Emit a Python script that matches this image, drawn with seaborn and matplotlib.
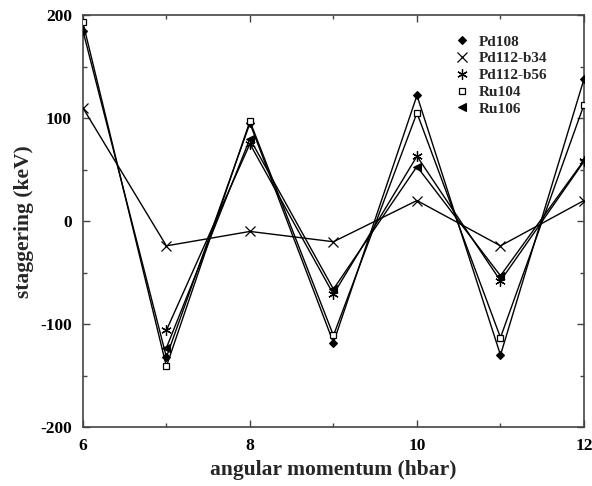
import matplotlib
matplotlib.use("Agg")
import matplotlib.pyplot as plt
from matplotlib.ticker import MultipleLocator
from matplotlib.lines import Line2D
import seaborn as sns
import pandas as pd

# Staggering of the yrast band versus angular momentum
spins_full = [6, 7, 8, 9, 10, 11, 12]
spins_tail = [7, 8, 9, 10, 11, 12]

pd108 = [185, -132, 95, -118, 122, -130, 138]
pd112_b34 = [110, -24, -10, -20, 20, -24, 20]
pd112_b56 = [-106, 75, -71, 63, -58, 58]
ru104 = [193, -141, 97, -111, 105, -113, 113]
ru106 = [-123, 80, -66, 53, -53, 59]

series_names = ["Pd108", "Pd112-b34", "Pd112-b56", "Ru104", "Ru106"]
series_x = [spins_full, spins_full, spins_tail, spins_full, spins_tail]
series_y = [pd108, pd112_b34, pd112_b56, ru104, ru106]

frames = []
for name, xs, ys in zip(series_names, series_x, series_y):
    frames.append(pd.DataFrame({"spin": xs, "stagger": ys, "nucleus": name}))
data = pd.concat(frames, ignore_index=True)

sns.set_style("ticks")
plt.rcParams["font.family"] = ["Liberation Serif", "DejaVu Serif"]
plt.rcParams["font.weight"] = "bold"
plt.rcParams["axes.unicode_minus"] = False

marker_styles = {
    "Pd108": dict(marker="D", ms=4.5, mfc="black", mec="black", mew=0.8),
    "Pd112-b34": dict(marker="x", ms=7, mfc="none", mec="black", mew=0.9),
    "Pd112-b56": dict(marker=(6, 2, 0), ms=7.5, mfc="none", mec="black", mew=0.9),
    "Ru104": dict(marker="s", ms=5, mfc="white", mec="black", mew=0.9),
    "Ru106": dict(marker="<", ms=6, mfc="black", mec="black", mew=0.8),
}

fig = plt.figure(figsize=(5.92, 4.86), dpi=100)
ax = fig.add_axes([0.140, 0.121, 0.8465, 0.848])

for name in series_names:
    sub = data[data["nucleus"] == name]
    sty = marker_styles[name]
    sns.lineplot(data=sub, x="spin", y="stagger", ax=ax, color="black",
                 linewidth=1.0, marker=sty["marker"], markersize=sty["ms"],
                 markerfacecolor=sty["mfc"], markeredgecolor=sty["mec"],
                 markeredgewidth=sty["mew"], legend=False, zorder=3)

ax.set_xlim(6, 12)
ax.set_ylim(-200, 200)
ax.xaxis.set_major_locator(MultipleLocator(2))
ax.xaxis.set_minor_locator(MultipleLocator(1))
ax.yaxis.set_major_locator(MultipleLocator(100))
ax.yaxis.set_minor_locator(MultipleLocator(50))
ax.tick_params(which="both", direction="in", top=True, right=True,
               colors="#444444", labelcolor="black")
ax.tick_params(which="major", length=5, width=1, labelsize=12.5, pad=8)
ax.tick_params(which="minor", length=3, width=1)
for lab in ax.get_xticklabels() + ax.get_yticklabels():
    lab.set_fontweight("bold")
for sp in ax.spines.values():
    sp.set_color("#444444")
    sp.set_linewidth(1.2)

ax.set_xlabel("angular momentum (hbar)", fontsize=15.5, fontweight="bold", labelpad=4)
ax.set_ylabel("staggering (keV)", fontsize=15.5, fontweight="bold", labelpad=4)

handles = []
for name in series_names:
    sty = marker_styles[name]
    handles.append(Line2D([], [], linestyle="none", marker=sty["marker"],
                          markersize=sty["ms"], markerfacecolor=sty["mfc"],
                          markeredgecolor=sty["mec"], markeredgewidth=sty["mew"]))
leg = ax.legend(handles, series_names, loc="upper right", bbox_to_anchor=(0.955, 0.985),
                frameon=False, handlelength=1.0, handletextpad=0.6,
                labelspacing=0.2, prop={"weight": "bold", "size": 11})

fig.savefig("out.png", dpi=100)
